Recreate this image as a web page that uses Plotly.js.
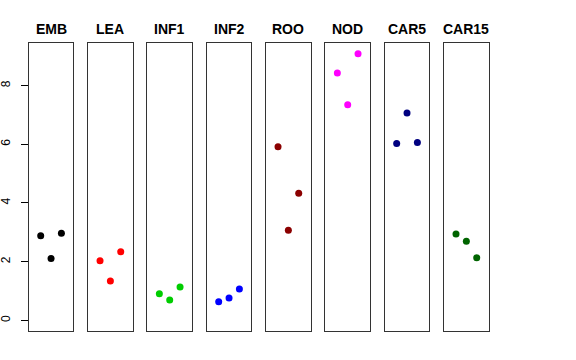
<!DOCTYPE html>
<html>
<head>
<meta charset="utf-8">
<script src="https://cdn.plot.ly/plotly-3.0.1.min.js"></script>
<style>html,body{margin:0;padding:0;background:#fff;}#chart{width:576px;height:360px;}</style>
</head>
<body>
<div id="chart"></div>
<script>
// Data
const categories = ["EMB", "LEA", "INF1", "INF2", "ROO", "NOD", "CAR5", "CAR15"];
const replicate = [1, 2, 3];
const EMB = [2.88, 2.11, 2.97];
const LEA = [2.03, 1.34, 2.34];
const INF1 = [0.91, 0.69, 1.14];
const INF2 = [0.63, 0.76, 1.07];
const ROO = [5.92, 3.07, 4.33];
const NOD = [8.43, 7.35, 9.09];
const CAR5 = [6.03, 7.07, 6.06];
const CAR15 = [2.94, 2.70, 2.13];
const colors = ["#000000", "#FF0000", "#00CD00", "#0000FF", "#8B0000", "#FF00FF", "#000080", "#006400"];
const yTicks = [0, 2, 4, 6, 8];

const series = [EMB, LEA, INF1, INF2, ROO, NOD, CAR5, CAR15];
const W = 576;
const yMax = Math.max(...series.flat());
const yRange = [0 - 0.04 * yMax, yMax * 1.04];

const traces = [];
const layout = {
  width: 576, height: 360,
  margin: {l: 0, r: 0, t: 43, b: 29},
  paper_bgcolor: "#fff", plot_bgcolor: "#fff",
  showlegend: false,
  font: {family: "Liberation Sans, Arial, sans-serif", color: "#000"},
  annotations: []
};

categories.forEach((cat, i) => {
  const n = i + 1;
  const xa = n === 1 ? "x" : "x" + n;
  const ya = n === 1 ? "y" : "y" + n;
  traces.push({
    x: replicate, y: series[i], xaxis: xa, yaxis: ya,
    type: "scatter", mode: "markers",
    marker: {color: colors[i], size: 7},
    hoverinfo: "skip"
  });
  const left = 28.7 + 59.33 * i;
  const right = left + 44.7;
  const dom = [left / W, right / W];
  layout["xaxis" + (n === 1 ? "" : n)] = {
    domain: dom, range: [-0.16, 4.16], showgrid: false, zeroline: false,
    showticklabels: false, ticks: "", showline: true, mirror: true,
    linecolor: "#333", linewidth: 1, fixedrange: true,
    anchor: ya
  };
  layout["yaxis" + (n === 1 ? "" : n)] = {
    domain: [0, 1], range: yRange, showgrid: false, zeroline: false,
    showline: true, mirror: true, linecolor: "#333", linewidth: 1,
    showticklabels: n === 1, ticks: n === 1 ? "outside" : "",
    tickvals: yTicks, ticktext: yTicks.map(String),
    ticklen: 7, tickcolor: "#000", tickangle: -90,
    ticklabelstandoff: 6,
    tickfont: {size: 12, family: "Liberation Sans, Arial, sans-serif", color: "#000"},
    fixedrange: true, anchor: xa
  };
  layout.annotations.push({
    text: "<b>" + cat + "</b>", xref: "paper", yref: "paper",
    x: (dom[0] + dom[1]) / 2, y: 1, yshift: 14, xanchor: "center", yanchor: "middle",
    showarrow: false, font: {size: 14, family: "Liberation Sans, Arial, sans-serif", color: "#000"}
  });
});

Plotly.newPlot("chart", traces, layout, {staticPlot: true, displayModeBar: false});
</script>
</body>
</html>
